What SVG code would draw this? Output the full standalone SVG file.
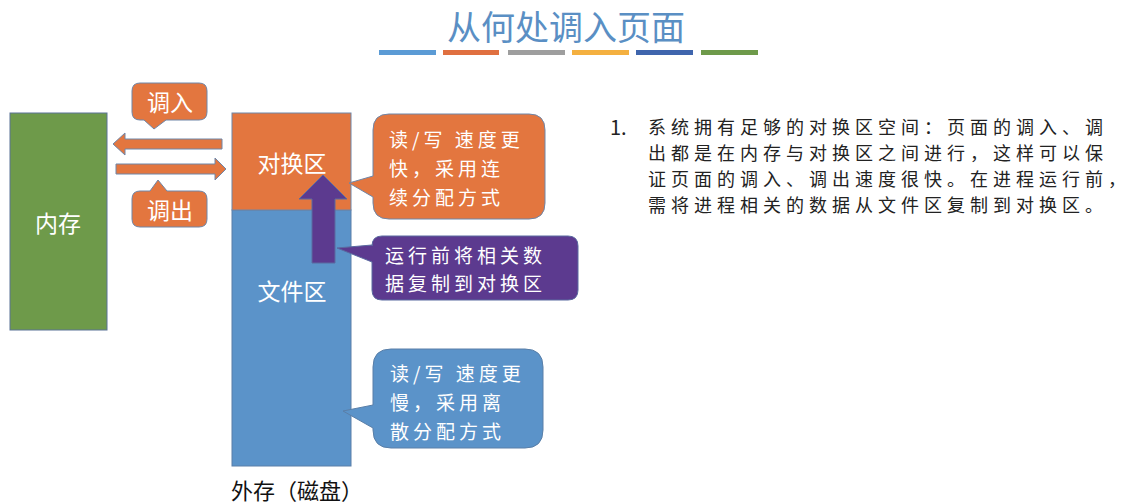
<svg xmlns="http://www.w3.org/2000/svg" width="1133" height="504" viewBox="0 0 1133 504">
<style>
text{font-family:"Noto Sans CJK SC","Liberation Sans",sans-serif;}
.w{fill:#ffffff;font-size:23px;dominant-baseline:central;}
.m{fill:#ffffff;font-size:19px;letter-spacing:4px;dominant-baseline:central;}
.c{text-anchor:middle;}
.k{fill:#222222;font-size:18px;letter-spacing:5px;dominant-baseline:central;}
.or{fill:#e3763f;stroke:#6f86a8;stroke-width:1;}
.bl{fill:#5b93c9;stroke:#5a7fa8;stroke-width:1;}
.gr{fill:#6e9a4a;stroke:#5a7296;stroke-width:1;}
.pu{fill:#5c3a8f;stroke:#5a6aa0;stroke-width:1;}
</style>
<rect width="1133" height="504" fill="#ffffff"/>
<g id="title">
<text x="566" y="25" class="c" style="font-size:34px;fill:#5a8fc4;dominant-baseline:central">从何处调入页面</text>
<rect x="379" y="50" width="57" height="5" fill="#5b9bd5"/>
<rect x="443" y="50" width="56" height="5" fill="#e07040"/>
<rect x="508" y="50" width="57" height="5" fill="#9e9e9e"/>
<rect x="572" y="50" width="57" height="5" fill="#f4b040"/>
<rect x="636" y="50" width="57" height="5" fill="#3f65ad"/>
<rect x="701" y="50" width="57" height="5" fill="#6e9a4a"/>
</g>
<g id="memory">
<rect x="10" y="113" width="97" height="217" class="gr"/>
<text x="58" y="222" class="w c">内存</text>
</g>
<g id="disk">
<rect x="232" y="210" width="119" height="256" class="bl"/>
<rect x="232" y="113" width="119" height="97" class="or"/>
<text x="292" y="162" class="w c">对换区</text>
<text x="292" y="290" class="w c">文件区</text>
<text x="297" y="489" class="c" style="font-size:22px;fill:#111;dominant-baseline:central">外存（磁盘）</text>
</g>
<g id="connectors">
<path d="M113,144 L125,133 L125,139 L222,139 L222,149 L125,149 L125,155 Z" class="or"/>
<path d="M226,169 L215,158 L215,164 L116,164 L116,174 L215,174 L215,180 Z" class="or"/>
<path d="M323,175 L347,199 L335,199 L335,263 L312,263 L312,199 L299,199 Z" class="pu"/>
</g>
<g id="callout-in">
<path d="M140,83 H199 Q207,83 207,91 V112 Q207,120 199,120 H166 L154,129 L144,120 H140 Q132,120 132,112 V91 Q132,83 140,83 Z" class="or"/>
<text x="170" y="101" class="w c">调入</text>
</g>
<g id="callout-out">
<path d="M140,191 H150 L158,180 L167,191 H199 Q207,191 207,199 V219 Q207,227 199,227 H140 Q132,227 132,219 V199 Q132,191 140,191 Z" class="or"/>
<text x="170" y="209" class="w c">调出</text>
</g>
<g id="callout-fast">
<path d="M389,114 H529 Q545,114 545,130 V203 Q545,219 529,219 H389 Q373,219 373,203 V197 L349,183 L373,176 V130 Q373,114 389,114 Z" class="or"/>
<text class="m"><tspan x="389" y="138">读/写 速度更</tspan><tspan x="389" y="167">快，采用连</tspan><tspan x="389" y="196">续分配方式</tspan></text>
</g>
<g id="callout-copy">
<path d="M382,236 H568 Q578,236 578,246 V290 Q578,300 568,300 H382 Q372,300 372,290 V262 L337,248 L372,245 V246 Q372,236 382,236 Z" class="pu"/>
<text class="m"><tspan x="385" y="254">运行前将相关数</tspan><tspan x="385" y="282">据复制到对换区</tspan></text>
</g>
<g id="callout-slow">
<path d="M391,349 H525 Q543,349 543,367 V430 Q543,448 525,448 H391 Q373,448 373,430 V428 L343,411 L373,405 V367 Q373,349 391,349 Z" class="bl"/>
<text class="m"><tspan x="390" y="372">读/写 速度更</tspan><tspan x="390" y="401">慢，采用离</tspan><tspan x="390" y="430">散分配方式</tspan></text>
</g>
<g id="notes">
<text x="610" y="126" class="k" style="letter-spacing:0;font-size:20px">1.</text>
<text class="k"><tspan x="648" y="126">系统拥有足够的对换区空间：页面的调入、调</tspan><tspan x="648" y="152">出都是在内存与对换区之间进行，这样可以保</tspan><tspan x="648" y="178">证页面的调入、调出速度很快。在进程运行前，</tspan><tspan x="648" y="204">需将进程相关的数据从文件区复制到对换区。</tspan></text>
</g>
</svg>
